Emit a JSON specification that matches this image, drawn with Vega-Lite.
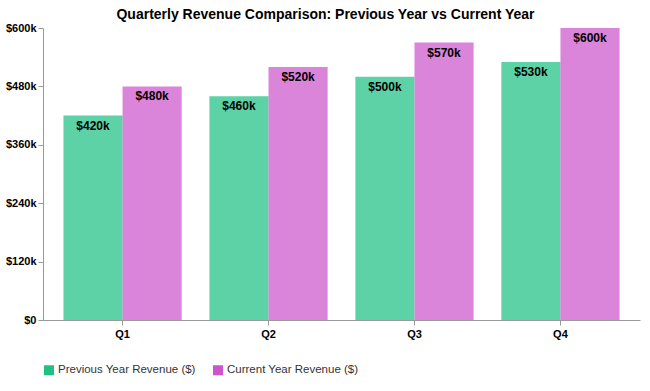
{
  "$schema": "https://vega.github.io/schema/vega-lite/v6.json",
  "width": 597,
  "height": 292,
  "autosize": {"type": "none"},
  "padding": {"left": 43, "top": 28, "right": 10, "bottom": 71},
  "background": "white",
  "config": {
    "font": "Liberation Sans",
    "view": {"stroke": null},
    "axis": {"domainColor": "#999999", "tickColor": "#999999", "labelColor": "#000000", "labelFont": "Liberation Sans", "labelFontWeight": "bold", "labelFontSize": 11, "grid": false}
  },
  "title": {"text": "Quarterly Revenue Comparison: Previous Year vs Current Year", "fontSize": 14, "fontWeight": "bold", "color": "#000000", "anchor": "middle", "dx": -16, "offset": 0},
  "data": {
    "values": [
      {"quarter": "Q1", "series": "Previous Year Revenue ($)", "value": 420000},
      {"quarter": "Q1", "series": "Current Year Revenue ($)", "value": 480000},
      {"quarter": "Q2", "series": "Previous Year Revenue ($)", "value": 460000},
      {"quarter": "Q2", "series": "Current Year Revenue ($)", "value": 520000},
      {"quarter": "Q3", "series": "Previous Year Revenue ($)", "value": 500000},
      {"quarter": "Q3", "series": "Current Year Revenue ($)", "value": 570000},
      {"quarter": "Q4", "series": "Previous Year Revenue ($)", "value": 530000},
      {"quarter": "Q4", "series": "Current Year Revenue ($)", "value": 600000}
    ]
  },
  "encoding": {
    "x": {"field": "quarter", "type": "nominal", "title": null, "scale": {"paddingInner": 0.19, "paddingOuter": 0.14}, "axis": {"labelAngle": 0, "labelPadding": 3}},
    "xOffset": {"field": "series", "type": "nominal", "sort": ["Previous Year Revenue ($)", "Current Year Revenue ($)"]},
    "y": {"field": "value", "type": "quantitative", "title": null, "scale": {"domain": [0, 600000], "nice": false}, "axis": {"values": [0, 120000, 240000, 360000, 480000, 600000], "labelPadding": 2, "labelExpr": "datum.value == 0 ? '$0' : '$' + (datum.value/1000) + 'k'"}}
  },
  "layer": [
    {
      "mark": {"type": "bar", "opacity": 0.72},
      "encoding": {
        "color": {"field": "series", "type": "nominal", "sort": ["Previous Year Revenue ($)", "Current Year Revenue ($)"], "scale": {"domain": ["Previous Year Revenue ($)", "Current Year Revenue ($)"], "range": ["#20c085", "#cc55cc"]},
          "legend": {"title": null, "orient": "none", "legendX": 0, "legendY": 336, "direction": "horizontal", "symbolType": "square", "symbolSize": 100, "symbolOpacity": 1, "labelFontSize": 11.5, "labelColor": "#333333", "columnPadding": 16, "labelOffset": 3}}
      }
    },
    {
      "mark": {"type": "text", "baseline": "top", "dy": 5, "fontWeight": "bold", "fontSize": 12, "color": "#000000"},
      "encoding": {
        "text": {"field": "value", "type": "quantitative", "format": "$.3s"},
        "xOffset": {"field": "series", "type": "nominal", "sort": ["Previous Year Revenue ($)", "Current Year Revenue ($)"]}
      }
    }
  ]
}
